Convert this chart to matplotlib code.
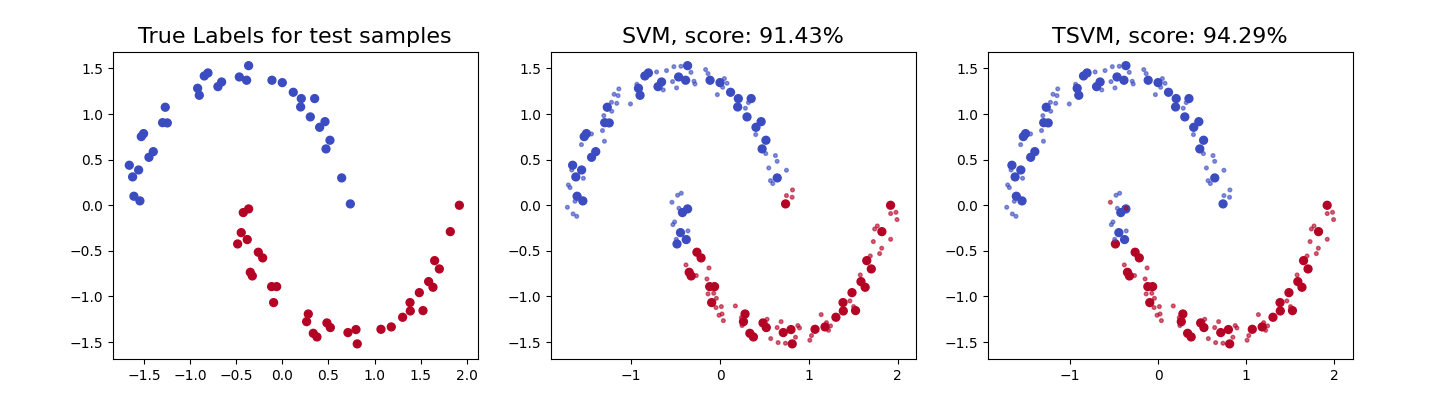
import numpy as np
import matplotlib
matplotlib.use("Agg")
import matplotlib.pyplot as plt

# ---- test samples (x, y) ----
test_x = [-1.659, -1.623, -1.558, -1.609, -1.544, -1.529, -1.504, -1.446, -1.399, -1.298,
          -1.247, -1.269, -0.918, -0.900, -0.846, -0.806, -0.698, -0.658, -0.466, -0.387,
          -0.365, -0.112, 0.000, 0.119, 0.206, 0.199, 0.351, 0.304, 0.405, 0.463,
          0.517, 0.474, 0.644, 0.738,
          -0.423, -0.365, -0.445, -0.380, -0.484, -0.260, -0.213, -0.347, -0.325, -0.116,
          -0.061, -0.094, 0.282, 0.264, 0.336, 0.376, 0.484, 0.521, 0.712, 0.799,
          0.813, 1.070, 1.182, 1.305, 1.385, 1.388, 1.486, 1.526, 1.587, 1.634,
          1.652, 1.703, 1.822, 1.920]
test_y = [0.439, 0.311, 0.387, 0.099, 0.048, 0.753, 0.786, 0.526, 0.588, 0.906,
          0.903, 1.075, 1.283, 1.206, 1.418, 1.451, 1.301, 1.352, 1.407, 1.371,
          1.531, 1.371, 1.345, 1.239, 1.170, 1.078, 1.170, 0.969, 0.855, 0.917,
          0.713, 0.618, 0.300, 0.015,
          -0.080, -0.040, -0.300, -0.376, -0.424, -0.515, -0.577, -0.735, -0.775, -0.892,
          -0.892, -1.067, -1.192, -1.276, -1.404, -1.444, -1.290, -1.341, -1.396, -1.363,
          -1.520, -1.360, -1.334, -1.228, -1.067, -1.159, -0.958, -1.155, -0.837, -0.899,
          -0.607, -0.698, -0.289, 0.000]
true_labels = [0] * 34 + [1] * 34
svm_pred = [0] * 33 + [1] + [0] * 5 + [1] * 29
tsvm_pred = [0] * 34 + [0] * 4 + [1] * 30

# ---- unlabeled samples ----
unl_x = [-1.718, -1.654, -1.613, -1.707, -1.688, -1.632, -1.538, -1.669, -1.560, -1.447,
         -1.301, -1.323, -1.308, -1.218, -1.222, -1.162, -1.192, -1.147, -1.139, -1.008,
         -0.936, -0.925, -0.714, -0.602, -0.639, -0.534, -0.519, -0.489, -0.440, -0.327,
         -0.293, -0.282, -0.162, -0.135, -0.030, 0.049, 0.079, 0.030, 0.286, 0.320,
         0.402, 0.515, 0.624, 0.643, 0.549, 0.568, 0.594, 0.748,
         -0.541, -0.477, -0.436, -0.511, -0.530, -0.361, -0.492, -0.462, -0.361,
         0.816, 0.748, 0.812, 1.921, 1.981, 1.993, 1.741, 1.771, 1.726, 1.921,
         1.820, 1.797, 1.692, 1.579, 1.462, 1.504, 1.139, 0.876, 0.895, 0.850,
         1.030, 1.011, 1.199, 1.244, 1.222, -0.383, -0.124, -0.267, -0.147, -0.135,
         -0.071, -0.041, 0.015, -0.045, 0.023, -0.011, 0.038, 0.173, 0.241, 0.248,
         0.530, 0.688, 0.643, 0.571, 0.654, 0.737]
unl_y = [-0.022, -0.095, -0.121, 0.223, 0.194, 0.044, 0.296, 0.387, 0.665, 0.782,
         0.702, 0.819, 0.983, 1.031, 1.129, 1.118, 1.217, 1.202, 1.276, 1.111,
         1.327, 1.294, 1.462, 1.477, 1.265, 1.356, 1.520, 1.287, 1.524, 1.458,
         1.360, 1.330, 1.488, 1.444, 1.213, 1.389, 1.338, 1.294, 1.064, 1.126,
         0.775, 0.567, 0.545, 0.482, 0.409, 0.270, 0.238, 0.384,
         0.033, 0.110, 0.132, -0.183, -0.212, -0.281, -0.373, -0.033, -0.033,
         0.168, 0.106, 0.088, -0.091, -0.077, -0.157, -0.260, -0.227, -0.398, -0.373,
         -0.471, -0.530, -0.556, -0.764, -1.049, -1.111, -1.199, -1.319, -1.345, -1.447,
         -1.429, -1.480, -1.287, -1.323, -1.371, -0.654, -0.687, -0.771, -0.808, -0.972,
         -0.965, -1.020, -1.111, -1.122, -1.192, -1.206, -1.265, -1.104, -1.232, -1.319,
         -1.250, -1.276, -1.341, -1.462, -1.506, -1.513]
svm_unl = [0] * 57 + [1] * 46
tsvm_unl = [0] * 48 + [1] + [0] * 7 + [1] + [0] * 3 + [1] * 43

titles = ["True Labels for test samples", "SVM, score: 91.43%", "TSVM, score: 94.29%"]

fig = plt.figure(figsize=(14.36, 3.94), dpi=100)
lefts = [112.7, 550.7, 987.7]
W, H = 1436.0, 394.0
axes = [fig.add_axes([l / W, (394 - 359.3) / H, 365 / W, 307.6 / H]) for l in lefts]

big_s = 32
small_s = 7

ax = axes[0]
ax.scatter(test_x, test_y, c=true_labels, cmap="coolwarm", vmin=0, vmax=1, s=big_s)
ax.set_xlim(-1.839, 2.119)
ax.set_ylim(-1.689, 1.684)

for ax, tp, up, xl in [(axes[1], svm_pred, svm_unl, (-1.906, 2.203)),
                       (axes[2], tsvm_pred, tsvm_unl, (-1.934, 2.210))]:
    ax.scatter(test_x, test_y, c=tp, cmap="coolwarm", vmin=0, vmax=1, s=big_s)
    ax.scatter(unl_x, unl_y, c=up, cmap="coolwarm", vmin=0, vmax=1, s=small_s, alpha=0.6)
    ax.set_xlim(*xl)
    ax.set_ylim(-1.689, 1.684)

for ax, t in zip(axes, titles):
    ax.set_title(t, fontsize=16)
    ax.tick_params(labelsize=10)

fig.savefig("out.png", dpi=100)
